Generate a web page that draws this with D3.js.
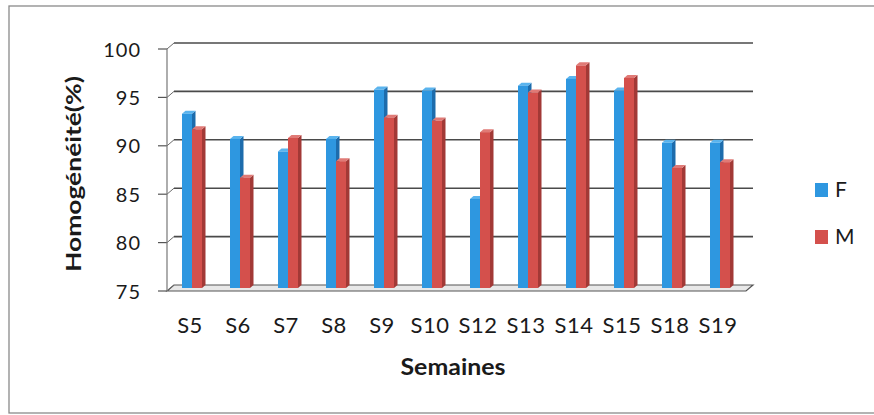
<!DOCTYPE html>
<html>
<head>
<meta charset="utf-8">
<script src="https://cdn.jsdelivr.net/npm/d3@7"></script>
<style>
  html, body { margin: 0; padding: 0; background: #fff; }
  svg { display: block; }
  text { font-family: Lato, "Open Sans", sans-serif; fill: #1a1a1a; }
</style>
</head>
<body>
<svg id="chart" width="874" height="415"></svg>
<script>
const categories = ["S5","S6","S7","S8","S9","S10","S12","S13","S14","S15","S18","S19"];
const seriesNames = ["F","M"];
const valuesF = [93.0, 90.4, 89.1, 90.4, 95.5, 95.4, 84.2, 95.9, 96.6, 95.4, 90.0, 90.0];
const valuesM = [91.4, 86.4, 90.5, 88.1, 92.6, 92.3, 91.1, 95.2, 98.0, 96.7, 87.4, 88.0];
const yTicks = [75, 80, 85, 90, 95, 100];
const colors = { F: ["#2e97e0", "#1d6cac", "#5ab4ee"], M: ["#d4504c", "#a23936", "#e07a76"] };

const svg = d3.select("#chart");

// outer frame
svg.append("rect").attr("x", 9).attr("y", 6).attr("width", 880).attr("height", 407)
  .attr("fill", "none").attr("stroke", "#8a8a8a").attr("stroke-width", 1.3);

const dx = 7, dy = -6;          // wall depth offset
const yFront = d3.scaleLinear().domain([75, 100]).range([291, 49]);
const yBar = d3.scaleLinear().domain([75, 100]).range([288, 46]);
const x = d3.scaleBand().domain(categories).range([168, 744]).padding(0);
const inner = d3.scaleBand().domain(seriesNames).range([-10, 10]).padding(0);
const x0 = 167, x1 = 746;

// floor
svg.append("path")
  .attr("d", `M${x0},${yFront(75)} L${x1},${yFront(75)} L${x1+dx},${yFront(75)+dy} L${x0+dx},${yFront(75)+dy} Z`)
  .attr("fill", "#e8e8e8").attr("stroke", "#555").attr("stroke-width", 1.2);

// gridlines on back wall + diagonals + ticks
const grid = svg.append("g");
yTicks.forEach(t => {
  const yy = yFront(t);
  if (t !== 75) {
    grid.append("line").attr("x1", x0 + dx).attr("x2", x1 + dx).attr("y1", yy + dy).attr("y2", yy + dy)
      .attr("stroke", "#4a4a4a").attr("stroke-width", 1.6);
  }
  grid.append("line").attr("x1", x0).attr("x2", x0 + dx).attr("y1", yy).attr("y2", yy + dy)
    .attr("stroke", "#6a6a6a").attr("stroke-width", 1);
  grid.append("line").attr("x1", 158).attr("x2", x0).attr("y1", yy).attr("y2", yy)
    .attr("stroke", "#555").attr("stroke-width", 1.2);
});
// left wall vertical axis line
svg.append("line").attr("x1", x0).attr("x2", x0).attr("y1", yFront(100)).attr("y2", yFront(75))
  .attr("stroke", "#777").attr("stroke-width", 1.2);

// y tick labels via axis generator
const yAxis = d3.axisLeft(yFront).tickValues(yTicks).tickSize(0).tickPadding(0);
const ya = svg.append("g").attr("transform", "translate(141,0)").call(yAxis);
ya.select(".domain").remove();
ya.selectAll("text").attr("font-size", 20).attr("fill", "#1a1a1a").attr("letter-spacing", 1)
  .style("font-family", "Lato, 'Open Sans', sans-serif").attr("dy", "0.35em").attr("x", 0);

// bars (3D-ish)
const bw = 10, depth = 3.5, ddy = -3;
const data = [];
categories.forEach((c, i) => {
  data.push({ c, s: "F", v: valuesF[i] });
  data.push({ c, s: "M", v: valuesM[i] });
});
const bars = svg.append("g");
data.forEach(d => {
  const left = x(d.c) + x.bandwidth() / 2 + inner(d.s);
  const top = yBar(d.v), bot = yBar(75);
  const col = colors[d.s];
  bars.append("path")
    .attr("d", `M${left+bw},${top} L${left+bw+depth},${top+ddy} L${left+bw+depth},${bot+ddy} L${left+bw},${bot} Z`)
    .attr("fill", col[1]);
  bars.append("path")
    .attr("d", `M${left},${top} L${left+depth},${top+ddy} L${left+bw+depth},${top+ddy} L${left+bw},${top} Z`)
    .attr("fill", col[2]);
  bars.append("rect").attr("x", left).attr("y", top).attr("width", bw).attr("height", bot - top)
    .attr("fill", col[0]);
});

// x labels via axis
const xAxis = d3.axisBottom(x).tickSize(0).tickPadding(0);
const xa = svg.append("g").attr("transform", "translate(-2,325)").call(xAxis);
xa.select(".domain").remove();
xa.selectAll("text").attr("font-size", 22).attr("fill", "#1a1a1a").attr("letter-spacing", 0.5)
  .style("font-family", "Lato, 'Open Sans', sans-serif").attr("dy", "0.35em").attr("y", 0);

// axis titles
svg.append("text").attr("x", 453).attr("y", 367).attr("text-anchor", "middle").attr("dy", "0.35em")
  .attr("font-size", 22).attr("font-weight", "bold").attr("textLength", 105).attr("lengthAdjust", "spacingAndGlyphs")
  .text("Semaines");
svg.append("text").attr("transform", "translate(74,174) rotate(-90)").attr("text-anchor", "middle")
  .attr("dy", "0.35em").attr("font-size", 20).attr("font-weight", "bold")
  .attr("textLength", 196).attr("lengthAdjust", "spacingAndGlyphs").text("Homogénéité(%)");

// legend
const legend = svg.append("g");
seriesNames.forEach((s, i) => {
  const ly = 190 + i * 47;
  legend.append("rect").attr("x", 815).attr("y", ly - 7).attr("width", 13).attr("height", 14)
    .attr("fill", colors[s][0]);
  legend.append("text").attr("x", 835).attr("y", ly).attr("dy", "0.35em").attr("font-size", 21).text(s);
});
</script>
</body>
</html>
